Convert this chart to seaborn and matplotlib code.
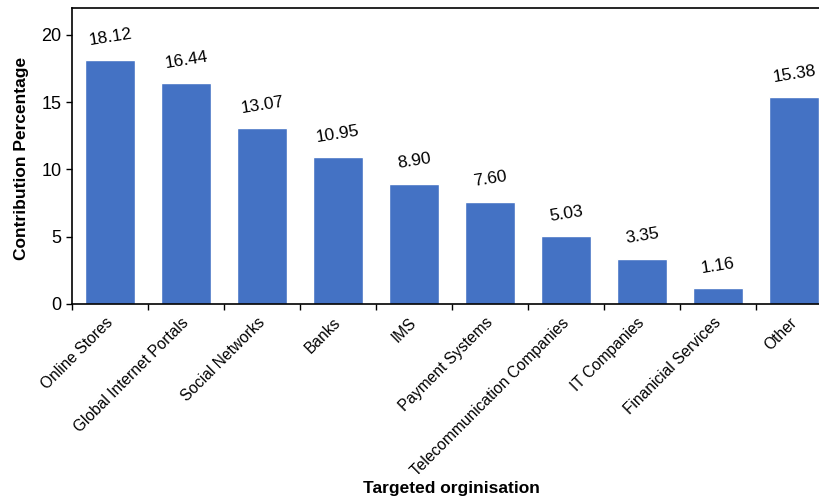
import numpy as np
import pandas as pd
import matplotlib
matplotlib.use("Agg")
import matplotlib.pyplot as plt
import matplotlib.transforms as mtransforms
import seaborn as sns

# dati
categorie = ["Online Stores", "Global Internet Portals", "Social Networks", "Banks", "IMS",
             "Payment Systems", "Telecommunication Companies", "IT Companies",
             "Finanicial Services", "Other"]
percentuali = [18.12, 16.44, 13.07, 10.95, 8.90, 7.60, 5.03, 3.35, 1.16, 15.38]
etichette = ["18.12", "16.44", "13.07", "10.95", "8.90", "7.60", "5.03", "3.35", "1.16", "15.38"]
y_ticks = [0, 5, 10, 15, 20]

df = pd.DataFrame({"org": categorie, "perc": percentuali})

sns.set_style("ticks")
plt.rcParams["font.family"] = ["Liberation Sans", "DejaVu Sans"]
plt.rcParams["text.color"] = "black"
plt.rcParams["axes.labelcolor"] = "black"
plt.rcParams["xtick.color"] = "black"
plt.rcParams["ytick.color"] = "black"

fig = plt.figure(figsize=(8.2, 4.98), dpi=100)
# l'asse esce a destra oltre la figura, come nell'originale
ax = fig.add_axes([72 / 820, 194 / 498, 760 / 820, 296 / 498])

sns.barplot(data=df, x="org", y="perc", color="#4472C4", saturation=1, width=0.65, ax=ax)

# valori sopra le barre
for i, v in enumerate(percentuali):
    ax.text(i, v + 1.7, etichette[i], ha="center", va="center", fontsize=12.5, rotation=9,
            color="black")

ax.set_xlim(-0.5, len(categorie) - 0.5)
ax.set_ylim(0, 22)
ax.set_yticks(y_ticks)
ax.tick_params(axis="y", labelsize=13, length=4, width=1, direction="out",
               color="black", labelcolor="black")

# tacche tra le categorie
ax.set_xticks(np.arange(len(categorie)))
ax.set_xticklabels(categorie, rotation=45, ha="right", rotation_mode="anchor", fontsize=11.2)
ax.tick_params(axis="x", which="major", length=0, pad=8, labelcolor="black")
ax.set_xticks(np.arange(len(categorie) + 1) - 0.5, minor=True)
ax.tick_params(axis="x", which="minor", length=4, width=1, color="black")

# sposto un po' a sinistra le etichette ruotate
spost = mtransforms.ScaledTranslation(-0.05, 0, fig.dpi_scale_trans)
for lab in ax.get_xticklabels():
    lab.set_transform(lab.get_transform() + spost)

for s in ["left", "bottom", "top", "right"]:
    ax.spines[s].set_color("black")
    ax.spines[s].set_linewidth(1.2)

ax.set_ylabel("Contribution Percentage", fontsize=12.5, fontweight="bold", color="black")
ax.yaxis.set_label_coords(-0.066, 0.493)
ax.set_xlabel("Targeted orginisation", fontsize=12.5, fontweight="bold", color="black")
ax.xaxis.set_label_coords(0.499, -0.622)
ax.xaxis.label.set_va("center")
ax.yaxis.label.set_va("center")

fig.savefig("out.png", dpi=100)
